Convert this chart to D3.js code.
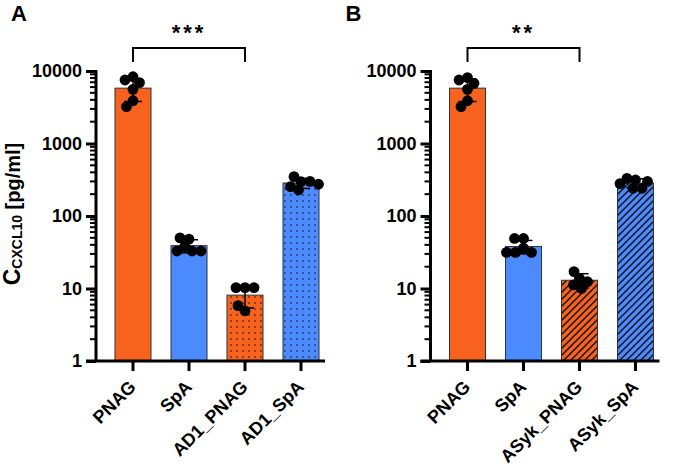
<!DOCTYPE html>
<html><head><meta charset="utf-8">
<script src="https://cdn.jsdelivr.net/npm/d3@7"></script>
<style>body{margin:0;background:#fff}svg{display:block}text{font-family:"Liberation Sans",Arial,sans-serif;font-weight:bold;fill:#000}</style>
</head><body>
<svg id="c" width="675" height="469"></svg>
<script>
const categoriesA = ["PNAG","SpA","AD1_PNAG","AD1_SpA"];
const categoriesB = ["PNAG","SpA","ASyk_PNAG","ASyk_SpA"];
const meansA = [5800, 39, 8.1, 285];
const sdA = [2000, 8, 2.7, 45];
const pointsA = [[8340,7510,6900,5590,3890,3220],[48,50,37.7,32.9,32.9,32.9],[10.3,10.3,10.3,4.9,5.8],[297,349,300,228,254,274]];
const meansB = [5800, 38, 13, 285];
const sdB = [2000, 8, 3, 40];
const pointsB = [[8090,7510,6760,5590,3890,3220],[49,49,36,31.5,31.5,31.5],[13.8,11.2,17.1,12.4,10],[314,331,241,241,300,280]];
const yTicks = [1,10,100,1000,10000];
const fillKinds = ["solid","solid","pattern","pattern"];
const colorsBar = ["#F7631E","#4B8BFF","#F7631E","#4B8BFF"];
const panelLabels = ["A","B"];
const sigLabels = ["***","**"];

const svg = d3.select("#c");
const defs = svg.append("defs");
colorsBar.forEach((c,i)=>{
  const p = defs.append("pattern").attr("id","dots"+i).attr("patternUnits","userSpaceOnUse").attr("width",6).attr("height",6);
  p.append("rect").attr("width",6).attr("height",6).attr("fill",c);
  p.append("circle").attr("cx",3).attr("cy",3).attr("r",0.8).attr("fill","#111");
  const h = defs.append("pattern").attr("id","hatch"+i).attr("patternUnits","userSpaceOnUse").attr("width",7).attr("height",7);
  h.append("rect").attr("width",7).attr("height",7).attr("fill",c);
  h.append("path").attr("d","M-1,1 l2,-2 M0,7 l7,-7 M6,8 l2,-2").attr("stroke","#111").attr("stroke-width",1.5);
});

function panel(x0, cats, means, sds, pts, pat, label, sig){
  const g = svg.append("g");
  const y = d3.scaleLog().domain([1,10000]).range([361,71]);
  const x = d3.scaleBand().domain(cats).range([x0+9, x0+233]).paddingInner(0.357).paddingOuter(0.1785);
  const bw = x.bandwidth();
  g.selectAll("rect.bar").data(cats).join("rect").attr("class","bar")
    .attr("x", d=>x(d)).attr("width", bw)
    .attr("y", (d,i)=>y(means[i])).attr("height",(d,i)=>y(1)-y(means[i]))
    .attr("fill",(d,i)=> fillKinds[i]==="solid" ? colorsBar[i] : `url(#${pat}${i})`)
    .attr("stroke","#333").attr("stroke-width",1);
  const eb = g.selectAll("g.eb").data(cats).join("g").attr("class","eb");
  eb.append("line").attr("x1",d=>x(d)+bw/2).attr("x2",d=>x(d)+bw/2)
    .attr("y1",(d,i)=>y(means[i]+sds[i])).attr("y2",(d,i)=>y(means[i]-sds[i]))
    .attr("stroke","#000").attr("stroke-width",1.5);
  [1,-1].forEach(s=>{
    eb.append("line").attr("x1",d=>x(d)+bw/2-9).attr("x2",d=>x(d)+bw/2+9)
      .attr("y1",(d,i)=>y(means[i]+s*sds[i])).attr("y2",(d,i)=>y(means[i]+s*sds[i]))
      .attr("stroke","#000").attr("stroke-width",1.5);
  });
  const r = 5.4, minD = 8.6;
  cats.forEach((c,i)=>{
    const cx = x(c)+bw/2;
    const placed = [];
    pts[i].forEach(v=>{
      const py = y(v);
      let best = 0;
      for (let k=0;k<200;k++){
        const off = (k%2===0?1:-1)*Math.ceil(k/2)*0.5;
        if (placed.every(p=>Math.hypot(p[0]-off,p[1]-py)>=minD)){best=off;break;}
      }
      placed.push([best,py]);
    });
    g.selectAll(null).data(placed).join("circle")
      .attr("cx",p=>cx+p[0]).attr("cy",p=>p[1]).attr("r",r).attr("fill","#000");
  });
  const minor = [];
  for (let e=0;e<4;e++) for (let m=2;m<=9;m++) minor.push(m*Math.pow(10,e));
  g.selectAll("line.minor").data(minor).join("line").attr("class","minor")
    .attr("x1",x0-6).attr("x2",x0).attr("y1",d=>y(d)).attr("y2",d=>y(d))
    .attr("stroke","#000").attr("stroke-width",2);
  const ya = d3.axisLeft(y).tickValues(yTicks).tickFormat(d3.format("d")).tickSize(10).tickPadding(4);
  const yg = g.append("g").attr("transform",`translate(${x0},0)`).call(ya);
  yg.select(".domain").attr("stroke-width",3).attr("d",`M0,${y(1)}V${y(10000)-1}`);
  yg.selectAll(".tick line").attr("stroke-width",3);
  yg.selectAll(".tick text").attr("font-size",18).attr("font-family","Liberation Sans, Arial").attr("font-weight","bold").attr("fill","#000");
  const xa = d3.axisBottom(x).tickSize(10).tickSizeOuter(0).tickFormat("");
  const xg = g.append("g").attr("transform",`translate(0,${y(1)})`).call(xa);
  xg.select(".domain").attr("stroke-width",3).attr("d",`M${x0-10},0H${x0+229}`);
  xg.selectAll(".tick line").attr("stroke-width",3);
  g.selectAll("text.xl").data(cats).join("text").attr("class","xl")
    .attr("transform",d=>`translate(${x(d)+bw/2+4},388) rotate(-45)`)
    .attr("text-anchor","end").attr("font-size",18).text(d=>d);
  const xa1 = x(cats[0])+bw/2, xa3 = x(cats[2])+bw/2;
  g.append("path").attr("d",`M${xa1},62V48H${xa3}V62`).attr("fill","none").attr("stroke","#000").attr("stroke-width",2);
  g.append("text").attr("x",(xa1+xa3)/2).attr("y",40).attr("text-anchor","middle")
    .attr("font-size",22).attr("letter-spacing",3).text(sig);
  g.append("text").attr("x",x0-85).attr("y",21).attr("font-size",22).text(label);
}
panel(96, categoriesA, meansA, sdA, pointsA, "dots", panelLabels[0], sigLabels[0]);
panel(430.5, categoriesB, meansB, sdB, pointsB, "hatch", panelLabels[1], sigLabels[1]);

const yl = svg.append("text").attr("transform","translate(19.5,214) rotate(-90)").attr("text-anchor","middle");
yl.append("tspan").attr("font-size",23).text("C");
yl.append("tspan").attr("font-size",14).attr("dy",2).text("CXCL10");
yl.append("tspan").attr("font-size",20).attr("dy",-2).text(" [pg/ml]");
</script>
</body></html>
